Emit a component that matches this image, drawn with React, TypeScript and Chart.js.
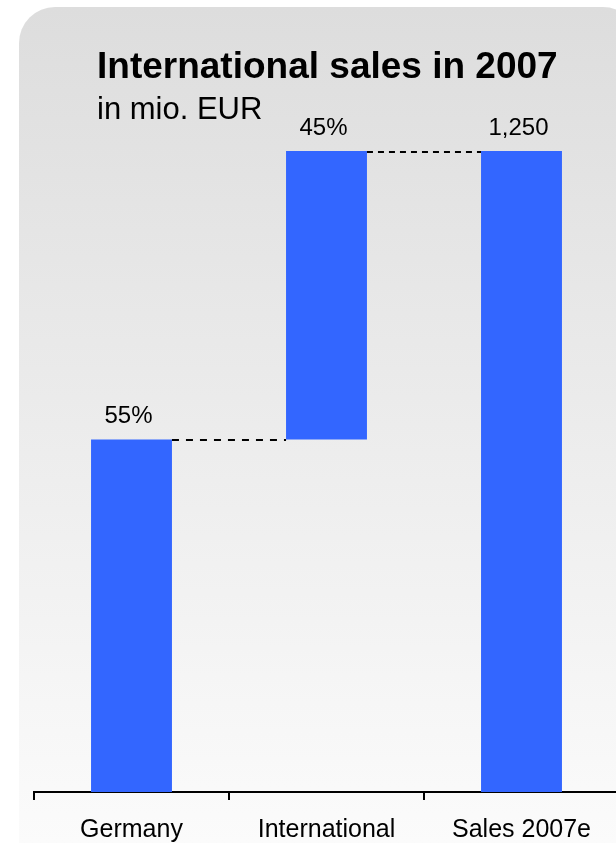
import React, { useEffect, useRef } from "react";
import { Chart, registerables } from "chart.js";

Chart.register(...registerables);

// ---- data ----
const categories = ["Germany", "International", "Sales 2007e"];
const barStarts = [0, 687.5, 0];
const barEnds = [687.5, 1250, 1250];
const valueLabels = ["55%", "45%", "1,250"];
const titleText = "International sales in 2007";
const subtitleText = "in mio. EUR";

// ---- styles ----
const FONT = '"Liberation Sans", Arial, Helvetica, sans-serif';
const BAR_COLOR = "#3366ff";
const connectorDashes = [
  [7, 7],
  [6, 5],
];

const decorPlugin = {
  id: "waterfallDecor",
  afterDatasetsDraw(chart: any) {
    const ctx = chart.ctx;
    const meta = chart.getDatasetMeta(0);
    const yScale = chart.scales.y;
    ctx.save();
    // connectors
    ctx.strokeStyle = "#000";
    ctx.lineWidth = 2;
    for (let i = 0; i < meta.data.length - 1; i++) {
      const a = meta.data[i];
      const b = meta.data[i + 1];
      const yy = Math.round(yScale.getPixelForValue(barEnds[i])) + 1;
      ctx.setLineDash(connectorDashes[i] || [6, 6]);
      ctx.beginPath();
      ctx.moveTo(a.x + a.width / 2, yy);
      ctx.lineTo(b.x - b.width / 2, yy);
      ctx.stroke();
    }
    ctx.setLineDash([]);
    // value labels
    ctx.fillStyle = "#000";
    ctx.font = `24px ${FONT}`;
    ctx.textAlign = "center";
    ctx.textBaseline = "alphabetic";
    meta.data.forEach((bar: any, i: number) => {
      const top = Math.min(bar.y, bar.base);
      ctx.fillText(valueLabels[i], bar.x - 3, top - 16);
    });
    // title + subtitle
    ctx.textAlign = "left";
    ctx.font = `bold 37px ${FONT}`;
    ctx.fillText(titleText, 97, 78);
    ctx.font = `31px ${FONT}`;
    ctx.fillText(subtitleText, 97, 119);
    ctx.restore();
  },
};

export default function App() {
  const canvasRef = useRef<HTMLCanvasElement | null>(null);

  useEffect(() => {
    if (!canvasRef.current) return;
    Chart.defaults.font.family = FONT;
    Chart.defaults.color = "#000";
    const chart = new Chart(canvasRef.current, {
      type: "bar",
      data: {
        labels: categories,
        datasets: [
          {
            data: categories.map((_, i) => [barStarts[i], barEnds[i]]) as any,
            backgroundColor: BAR_COLOR,
            borderWidth: 0,
            barPercentage: 0.415,
            categoryPercentage: 1,
          },
        ],
      },
      options: {
        animation: false,
        responsive: false,
        devicePixelRatio: 1,
        layout: { padding: { left: 34, right: 21, top: 151, bottom: 0 } },
        plugins: {
          legend: { display: false },
          tooltip: { enabled: false },
          title: { display: false },
        },
        scales: {
          x: {
            afterFit: (scale: any) => {
              scale.height = 51;
            },
            grid: {
              display: true,
              drawOnChartArea: false,
              drawTicks: true,
              tickLength: 8,
              color: "#000",
              lineWidth: 2,
              offset: true,
            },
            border: { display: true, color: "#000", width: 2 },
            ticks: {
              color: "#000",
              font: { size: 25, family: FONT },
              padding: 15,
              maxRotation: 0,
              autoSkip: false,
            },
          },
          y: {
            display: false,
            min: 0,
            max: 1250,
          },
        },
      },
      plugins: [decorPlugin],
    });
    return () => chart.destroy();
  }, []);

  return (
    <div
      style={{
        position: "fixed",
        left: 0,
        top: 0,
        width: 616,
        height: 843,
        overflow: "hidden",
        background: "#ffffff",
      }}
    >
      <div
        style={{
          position: "absolute",
          left: 19,
          top: 7,
          width: 620,
          height: 900,
          borderRadius: 36,
          background: "linear-gradient(to bottom, #dddddd 0px, #fbfbfb 836px)",
        }}
      />
      <canvas
        ref={canvasRef}
        width={640}
        height={843}
        style={{ position: "absolute", left: 0, top: 0, display: "block", width: 640, height: 843 }}
      />
    </div>
  );
}
